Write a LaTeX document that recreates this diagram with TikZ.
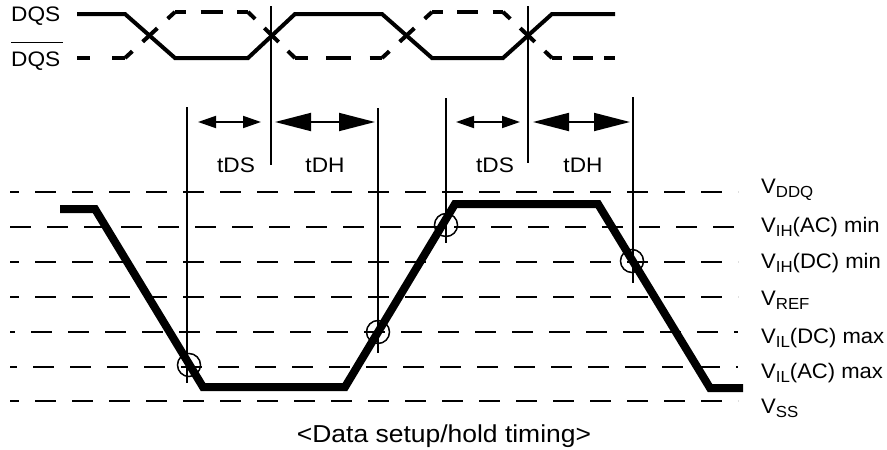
\documentclass[tikz,border=0pt]{standalone}
\usepackage{fontspec}
\setmainfont{Liberation Sans}
\usetikzlibrary{arrows.meta}
\newcommand\hs[1]{\scalebox{1.08}[1]{#1}}
\newcommand\hv[1]{\scalebox{1.05}[1]{#1}}
\newcommand\vsub[1]{\raisebox{-4.5pt}{\fontsize{16}{16}\selectfont #1}}
\begin{document}
\begin{tikzpicture}[x=1pt,y=-1pt,
  lbl/.style={inner sep=0pt, font=\fontsize{21}{25}\selectfont},
  sig/.style={line width=4pt, line join=miter},
  vline/.style={line width=2pt},
  level/.style={line width=1.5pt, dash pattern=on 21pt off 16pt},
  wave/.style={line width=8pt, line join=miter},
  mark circ/.style={circle, draw, line width=1.5pt, minimum size=23pt, inner sep=0pt},
  dimsmall/.style={line width=1.8pt, {Triangle[length=18pt,width=12pt]}-{Triangle[length=18pt,width=12pt]}},
  dimbig/.style={line width=1.8pt, {Triangle[length=36pt,width=18pt]}-{Triangle[length=36pt,width=18pt]}}
]
\useasboundingbox (0,0) rectangle (887,450);

% DQS labels
\node[lbl, anchor=base west] (dqs) at (11,21) {\hs{DQS}};
\node[lbl, anchor=base west] (dqsb) at (11,66) {\hs{DQS}};
\draw[line width=1.5pt] ([yshift=8.5pt]dqsb.north west) -- ([yshift=8.5pt,xshift=2pt]dqsb.north east);

% solid DQS
\coordinate (s0) at (77,14);  \coordinate (s1) at (125,14);
\coordinate (s2) at (175,58); \coordinate (s3) at (248,58);
\coordinate (s4) at (295,14); \coordinate (s5) at (382,14);
\coordinate (s6) at (432,58); \coordinate (s7) at (503,58);
\coordinate (s8) at (552,14); \coordinate (s9) at (615,14);
\draw[sig] (s0) -- (s1) -- (s2) -- (s3) -- (s4) -- (s5) -- (s6) -- (s7) -- (s8) -- (s9);

% dashed DQS bar
\coordinate (b0) at (77,58);  \coordinate (b1) at (125,58);
\coordinate (b2) at (175,12); \coordinate (b3) at (248,12);
\coordinate (b4) at (295,58); \coordinate (b5) at (382,58);
\coordinate (b6) at (432,12); \coordinate (b7) at (503,12);
\coordinate (b8) at (552,58); \coordinate (b9) at (615,58);
\draw[sig, dash pattern=on 13pt off 22pt] (b0) -- (b1);
\draw[sig, dash pattern=on 20pt off 14pt, dash phase=10pt] (b1) -- (b2);
\draw[sig, dash pattern=on 22pt off 14.5pt, dash phase=11pt] (b2) -- (b3);
\draw[sig, dash pattern=on 20pt off 12.9pt, dash phase=10pt] (b3) -- (b4);
\draw[sig, dash pattern=on 25pt off 18.5pt, dash phase=12.5pt] (b4) -- (b5);
\draw[sig, dash pattern=on 20pt off 14pt, dash phase=10pt] (b5) -- (b6);
\draw[sig, dash pattern=on 21pt off 14.5pt, dash phase=10.5pt] (b6) -- (b7);
\draw[sig, dash pattern=on 20pt off 13.6pt, dash phase=10pt] (b7) -- (b8);
\draw[sig, dash pattern=on 20pt off 11pt, dash phase=10pt] (b8) -- (b9);

% vertical reference lines
\coordinate (v1t) at (187,107); \coordinate (v1b) at (187,383);
\coordinate (v2t) at (271,6);   \coordinate (v2b) at (271,165);
\coordinate (v3t) at (378,108); \coordinate (v3b) at (378,353);
\coordinate (v4t) at (446,98);  \coordinate (v4b) at (446,243);
\coordinate (v5t) at (528,6);   \coordinate (v5b) at (528,163);
\coordinate (v6t) at (633,97);  \coordinate (v6b) at (633,283);
\foreach \i in {1,...,6} { \draw[vline] (v\i t) -- (v\i b); }

% timing arrows
\coordinate (a1l) at (198,122); \coordinate (a1r) at (261,122);
\coordinate (a2l) at (275,122); \coordinate (a2r) at (375,122);
\coordinate (a3l) at (456,122); \coordinate (a3r) at (520,122);
\coordinate (a4l) at (533,122); \coordinate (a4r) at (630,122);
\draw[dimsmall] (a1l) -- (a1r);
\draw[dimbig] (a2l) -- (a2r);
\draw[dimsmall] (a3l) -- (a3r);
\draw[dimbig] (a4l) -- (a4r);
\node[lbl, anchor=base] (tds1) at (236,172) {\hs{tDS}};
\node[lbl, anchor=base] (tdh1) at (325,172) {\hs{tDH}};
\node[lbl, anchor=base] (tds2) at (495,172) {\hs{tDS}};
\node[lbl, anchor=base] (tdh2) at (583,172) {\hs{tDH}};

% voltage levels
\foreach \y/\p [count=\i] in {192/12, 227/0, 262/12, 297/12, 332/16, 367/14, 401/12} {
  \coordinate (hl\i) at (10,\y);
  \coordinate (hr\i) at (738,\y);
  \draw[level, dash phase=\p pt] (hl\i) -- (hr\i);
}

% labels for levels
\node[lbl, anchor=base west] (vddq) at (761,193) {\hv{V\vsub{DDQ}}};
\node[lbl, anchor=base west] (vihac) at (761,232) {\hv{V\vsub{IH}(AC) min}};
\node[lbl, anchor=base west] (vihdc) at (761,268) {\hv{V\vsub{IH}(DC) min}};
\node[lbl, anchor=base west] (vref) at (761,305) {\hv{V\vsub{REF}}};
\node[lbl, anchor=base west] (vildc) at (761,343) {\hv{V\vsub{IL}(DC) max}};
\node[lbl, anchor=base west] (vilac) at (761,378) {\hv{V\vsub{IL}(AC) max}};
\node[lbl, anchor=base west] (vss) at (761,413) {\hv{V\vsub{SS}}};

% data waveform
\coordinate (w0) at (60,209);  \coordinate (w1) at (95,209);
\coordinate (w2) at (203,387); \coordinate (w3) at (345,387);
\coordinate (w4) at (455,204); \coordinate (w5) at (598,204);
\coordinate (w6) at (710,388); \coordinate (w7) at (743,388);
\draw[wave] (w0) -- (w1) -- (w2) -- (w3) -- (w4) -- (w5) -- (w6) -- (w7);

% marker circles
\node[mark circ] (c1) at (189,365) {};
\node[mark circ] (c2) at (378,332) {};
\node[mark circ] (c3) at (446,225) {};
\node[mark circ] (c4) at (632,261) {};

% caption
\node[anchor=base, inner sep=0pt, font=\fontsize{24.5}{28}\selectfont] (cap) at (444,442) {\hs{<Data setup/hold timing>}};
\end{tikzpicture}
\end{document}
